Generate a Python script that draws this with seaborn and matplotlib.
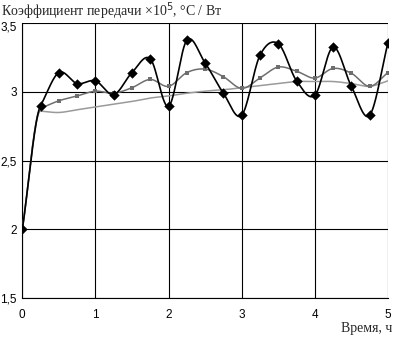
import numpy as np
import pandas as pd
import matplotlib
matplotlib.use("Agg")
import matplotlib.pyplot as plt
import matplotlib.transforms as mtransforms
import seaborn as sns

# time, h
hours = [0, 0.25, 0.5, 0.75, 1.0, 1.25, 1.5, 1.75, 2.0, 2.25, 2.5,
         2.75, 3.0, 3.25, 3.5, 3.75, 4.0, 4.25, 4.5, 4.75, 5.0]
# black curve with diamonds
k_black = [2.0, 2.90, 3.14, 3.06, 3.08, 2.98, 3.14, 3.24, 2.895, 3.375, 3.21,
           2.99, 2.83, 3.265, 3.35, 3.08, 2.975, 3.325, 3.04, 2.83, 3.355]
# dark grey curve with small squares
k_grey = [2.0, 2.88, 2.935, 2.97, 3.005, 2.99, 3.03, 3.09, 3.04, 3.14, 3.165,
          3.11, 3.025, 3.10, 3.18, 3.15, 3.10, 3.17, 3.135, 3.04, 3.14]
# light grey curve, no markers
k_light = [2.0, 2.86, 2.85, 2.87, 2.89, 2.91, 2.93, 2.955, 2.97, 2.99, 3.005,
           3.015, 3.03, 3.045, 3.06, 3.075, 3.075, 3.075, 3.06, 3.04, 3.08]

xticks = [0, 1, 2, 3, 4, 5]
yticks = [1.5, 2, 2.5, 3, 3.5]
ylabels = ["1,5", "2", "2,5", "3", "3,5"]


def smooth(x, y, n=30, sx=73.3, sy=137.0):
    # cubic hermite (smoothed line); at a sharp knee take the slope of the short side
    x = np.asarray(x, float)
    y = np.asarray(y, float)
    h = np.diff(x)
    s = np.diff(y) / h
    seglen = np.hypot(h * sx, np.diff(y) * sy)
    m = np.zeros_like(y)
    m[0], m[-1] = s[0], s[-1]
    for i in range(1, len(y) - 1):
        r = seglen[i - 1] / seglen[i]
        if r > 3:
            m[i] = s[i]
        elif r < 1 / 3:
            m[i] = s[i - 1]
        else:
            m[i] = (y[i + 1] - y[i - 1]) / (x[i + 1] - x[i - 1])
    xs, ys = [], []
    t = np.linspace(0, 1, n, endpoint=False)
    for i in range(len(x) - 1):
        h00 = 2 * t**3 - 3 * t**2 + 1
        h10 = t**3 - 2 * t**2 + t
        h01 = -2 * t**3 + 3 * t**2
        h11 = t**3 - t**2
        xs.append(x[i] + t * h[i])
        ys.append(h00 * y[i] + h10 * h[i] * m[i] + h01 * y[i + 1] + h11 * h[i] * m[i + 1])
    xs.append([x[-1]])
    ys.append([y[-1]])
    return np.concatenate(xs), np.concatenate(ys)


sns.set_style("white")
fig = plt.figure(figsize=(3.94, 3.44), dpi=100)
ax = fig.add_axes([0.0566, 0.1328, 0.928, 0.8003])

for vals, col, lw in [(k_light, "#9a9a9a", 1.1), (k_grey, "#6e6e6e", 1.1), (k_black, "#000000", 1.2)]:
    cx, cy = smooth(hours, vals)
    sns.lineplot(x=cx, y=cy, ax=ax, color=col, linewidth=lw, sort=False, estimator=None, zorder=3)

sns.scatterplot(x=hours, y=k_grey, ax=ax, marker="s", s=6, color="#6e6e6e",
                edgecolor="#6e6e6e", linewidth=0, zorder=4)
sns.scatterplot(x=hours, y=k_black, ax=ax, marker="D", s=28, color="black",
                edgecolor="black", linewidth=0, zorder=5)

ax.set_xlim(0, 5)
ax.set_ylim(1.5, 3.5)
ax.set_xticks(xticks)
ax.set_xticklabels([str(v) for v in xticks])
ax.set_yticks(yticks)
ax.set_yticklabels(ylabels)
ax.grid(True, color="black", linewidth=0.8)
ax.set_axisbelow(True)
for side in ["left", "bottom"]:
    ax.spines[side].set_color("black")
    ax.spines[side].set_linewidth(0.8)
ax.spines["top"].set_visible(False)
ax.spines["right"].set_visible(False)
ax.tick_params(length=0, labelsize=8.5, colors="black")
ax.tick_params(axis="x", pad=8)
ax.tick_params(axis="y", pad=4)
for lab in ax.get_xticklabels() + ax.get_yticklabels():
    lab.set_fontfamily("Liberation Sans")
# top label sits a little lower, as in the original
top = ax.get_yticklabels()[-1]
top.set_transform(top.get_transform() + mtransforms.ScaledTranslation(0, -2.5 / 72, fig.dpi_scale_trans))
ax.set_xlabel("")
ax.set_ylabel("")

fig.text(0.002, 0.998, "Коэффициент передачи ×10$^5$, °C / Вт", ha="left", va="top",
         fontsize=10, family="Liberation Serif")
fig.text(0.995, 0.035, "Время, ч", ha="right", va="baseline",
         fontsize=10, family="Liberation Serif")

fig.savefig("out.png", dpi=100)
